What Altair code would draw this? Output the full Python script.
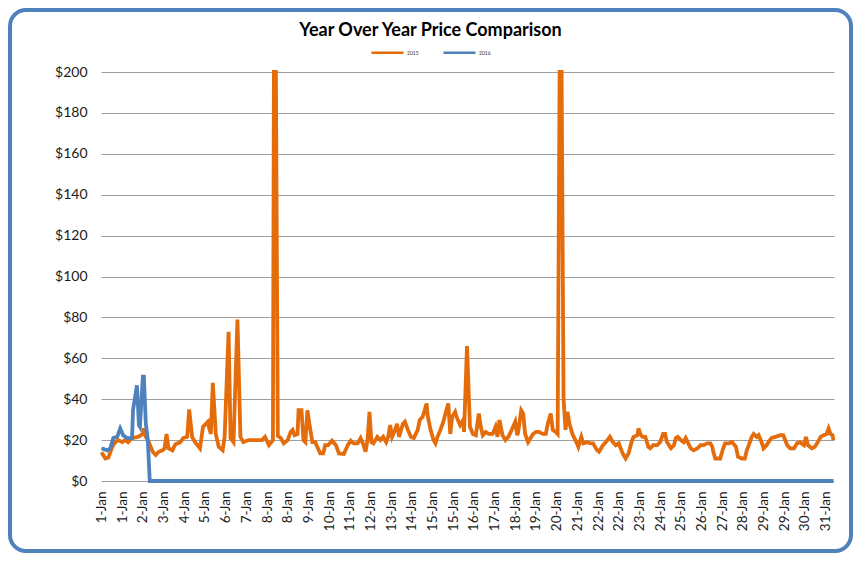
import altair as alt
import pandas as pd

# Hour-of-month index (0 = 1-Jan 00:00) and price
hours_2015 = [0, 4, 7, 11, 14, 17, 21, 24, 27, 31, 37, 42, 43, 45, 48, 52, 55, 58, 62, 64,
              66, 68, 72, 75, 80, 83, 87, 89, 92, 95, 100, 103, 108, 109, 111, 113, 116, 119, 123, 125,
              129, 131, 134, 138, 141, 144, 149, 156, 163, 166, 170, 174, 175, 177, 179, 182, 185, 189, 192, 194,
              196, 199, 200, 203, 205, 207, 209, 211, 214, 217, 219, 222, 225, 227, 230, 234, 238, 241, 246, 250,
              253, 256, 260, 263, 266, 268, 270, 272, 274, 276, 280, 283, 286, 289, 291, 293, 295, 298, 300, 302,
              306, 308, 311, 314, 317, 321, 323, 326, 328, 330, 331, 334, 337, 339, 341, 344, 347, 350, 352, 354,
              356, 359, 361, 364, 367, 368, 371, 374, 377, 380, 383, 385, 387, 390, 393, 397, 400, 402, 404, 407,
              410, 413, 417, 420, 422, 423, 426, 428, 430, 433, 438, 441, 444, 448, 451, 453, 456, 458, 461, 463,
              465, 467, 469, 471, 473, 475, 478, 481, 484, 487, 489, 493, 496, 499, 503, 505, 509, 512, 516, 519,
              522, 525, 529, 532, 535, 538, 540, 544, 545, 547, 549, 552, 555, 557, 560, 564, 567, 570, 572, 574,
              578, 581, 583, 585, 588, 591, 593, 595, 598, 601, 605, 608, 611, 615, 618, 620, 621, 623, 628, 631,
              633, 637, 640, 644, 646, 650, 653, 655, 657, 660, 662, 665, 667, 670, 672, 675, 677, 680, 684, 689,
              692, 696, 699, 703, 706, 709, 713, 715, 717, 721, 724, 727, 730, 733, 736, 738, 740, 742, 743]
price_2015 = [14, 11, 11.5, 16.7, 19, 20, 19, 20, 19, 21, 21.6, 23, 25.7, 21.6, 19, 14.3, 12.7, 14.3, 15, 16,
              23, 16, 15, 18, 19, 21, 21.6, 35, 21.6, 19, 16, 26.5, 29, 26.5, 23, 48, 23, 16.7, 15, 21.6,
              73, 21, 19, 79, 21.6, 19, 20, 20, 20, 21.6, 17.5, 20, 400, 400, 22, 21, 18.4, 20, 24, 25,
              22.4, 23, 34.6, 34.6, 20, 19, 34.6, 28, 19, 19, 16.7, 13.5, 13.5, 17.5, 17.5, 19.7, 17.5, 13.5, 13.2, 17.5,
              19.7, 18.4, 18.4, 21, 17.5, 14.3, 20, 33.8, 19, 18.4, 21.6, 20, 21.6, 19, 21.6, 27.3, 21.6, 25, 28, 21.6,
              28, 29, 25, 21.6, 21, 25, 29.8, 31.4, 34.6, 37.9, 32.2, 25, 20, 18.4, 21.6, 25, 29, 34.6, 37.9, 23,
              31.4, 33.8, 30.6, 27.3, 29.8, 24, 66, 26.5, 23, 22.4, 33, 26.5, 22.4, 24, 23, 23, 26.5, 21.6, 29.8, 22.4,
              20, 21.6, 25.7, 29, 22.4, 24, 34.6, 33, 23, 19, 23, 24, 24, 23, 23, 28, 33, 25, 24, 23,
              400, 400, 40, 25, 33.8, 28, 23, 20, 16.7, 21.6, 18.4, 19, 18.4, 18.4, 15, 14.3, 17.5, 19, 21.6, 19,
              17.5, 18.4, 13.5, 11, 13.5, 19, 21.6, 22.4, 25.7, 23, 21.6, 21.6, 16.7, 16, 17.5, 17.5, 19, 23, 23, 19,
              16, 17.5, 21, 21.6, 20, 19, 21, 19, 16, 15, 16, 17.5, 17.5, 18.4, 18.4, 16.7, 14.3, 11, 11, 16,
              18.4, 18.4, 19, 16.7, 11.9, 11, 11, 15, 17.5, 21.6, 23, 21.6, 22.4, 19, 16, 17.5, 19, 21, 21.6, 22.4,
              22.4, 17.5, 16, 16, 18.4, 19, 17.5, 21.6, 17.5, 16, 16.7, 19, 21.6, 22.4, 23, 25.7, 23, 22.4, 20]

hours_2016 = [0, 6, 9, 12, 16, 19, 22, 26, 31, 32, 36, 38, 39, 42, 43, 45, 47, 49, 743]
price_2016 = [16, 15, 16, 21, 21.6, 25.7, 22.4, 21, 21, 34.6, 46.8, 27.3, 26.5, 51, 51, 28, 20, 0, 0]

series_names = ["2015", "2016"]
series_colors = ["#E46C0A", "#4F81BD"]

tick_hours = [0, 21, 42, 63, 84, 105, 126, 147, 168, 189, 210, 231, 252, 273, 294, 315, 336, 357,
              378, 399, 420, 441, 462, 483, 504, 525, 546, 567, 588, 609, 630, 651, 672, 693, 714, 735]
tick_labels = ["1-Jan", "1-Jan", "2-Jan", "3-Jan", "4-Jan", "5-Jan", "6-Jan", "7-Jan", "8-Jan", "8-Jan",
               "9-Jan", "10-Jan", "11-Jan", "12-Jan", "13-Jan", "14-Jan", "15-Jan", "15-Jan", "16-Jan",
               "17-Jan", "18-Jan", "19-Jan", "20-Jan", "21-Jan", "22-Jan", "22-Jan", "23-Jan", "24-Jan",
               "25-Jan", "26-Jan", "27-Jan", "28-Jan", "29-Jan", "29-Jan", "30-Jan", "31-Jan"]
y_ticks = [0, 20, 40, 60, 80, 100, 120, 140, 160, 180, 200]

df = pd.concat([
    pd.DataFrame({"hour": hours_2015, "price": price_2015, "year": "2015"}),
    pd.DataFrame({"hour": hours_2016, "price": price_2016, "year": "2016"}),
], ignore_index=True)

label_lookup = "{" + ",".join(f"'{h}':'{l}'" for h, l in zip(tick_hours, tick_labels)) + "}"
label_expr = label_lookup + "[toString(datum.value)]"

W, H = 733, 409

lines = alt.Chart(df).mark_line(strokeWidth=3.8).encode(
    x=alt.X("hour:Q",
            scale=alt.Scale(domain=[-0.5, 743.5], nice=False, zero=False),
            axis=alt.Axis(values=tick_hours, labelExpr=label_expr, labelAngle=-90, title=None,
                          grid=False, ticks=False, domain=False, labelFontSize=13.5,
                          labelPadding=10, labelFlush=False, labelOverlap=False,
                          labelColor="#1a1a1a")),
    y=alt.Y("price:Q",
            scale=alt.Scale(domain=[0, 200], nice=False, clamp=True),
            axis=alt.Axis(values=y_ticks, format="$,.0f", title=None, ticks=False, domain=False,
                          gridColor="#a0a0a0", gridWidth=1, labelFontSize=14, labelPadding=14,
                          labelColor="#1a1a1a")),
    color=alt.Color("year:N",
                    scale=alt.Scale(domain=series_names, range=series_colors),
                    legend=alt.Legend(orient="none", legendX=269, legendY=-37, direction="horizontal",
                                      title=None, symbolType="stroke", symbolSize=1024,
                                      symbolStrokeWidth=2.5, labelFontSize=5, labelOffset=2,
                                      columnPadding=19, labelColor="#333333")),
)

border = alt.Chart(pd.DataFrame({"k": [0]})).mark_rect(
    fill="white", fillOpacity=0, stroke="#4F81BD", strokeWidth=4, cornerRadius=16
).encode(x=alt.value(-91), x2=alt.value(750), y=alt.value(-62), y2=alt.value(479))

chart = alt.layer(border, lines).properties(
    width=W, height=H,
    title=alt.TitleParams(text="Year Over Year Price Comparison", fontSize=18, fontWeight="bold",
                          font="Lato", color="#000000", anchor="middle", dx=-37, offset=-32),
    autosize=alt.AutoSizeParams(type="none"),
    padding={"left": 93, "top": 64, "right": 20, "bottom": 73},
).configure(font="Lato").configure_view(strokeWidth=0)

chart.save("out.html", embed_options={"renderer": "svg", "actions": False})
